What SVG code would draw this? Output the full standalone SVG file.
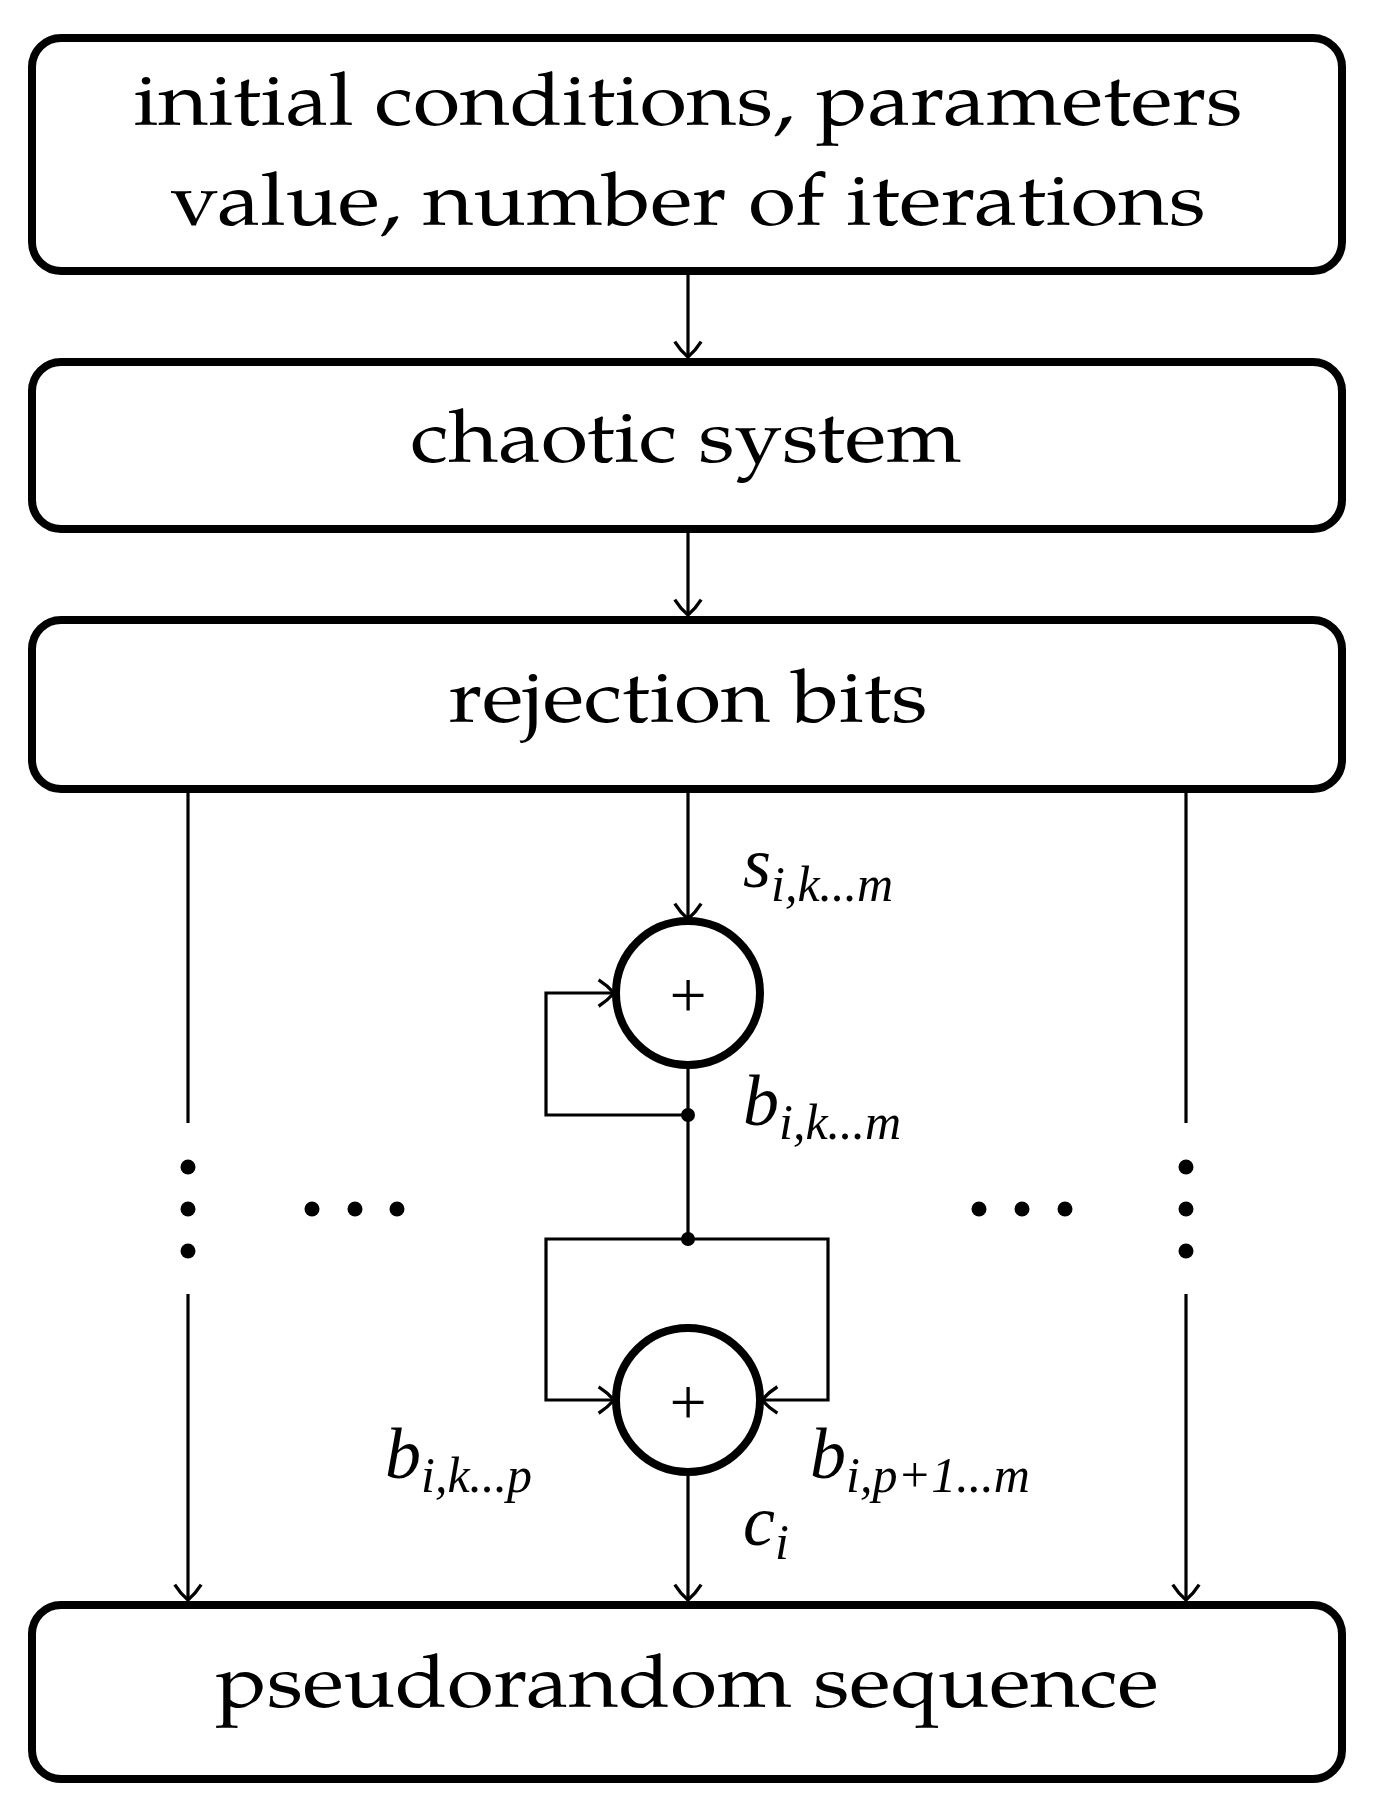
<svg xmlns="http://www.w3.org/2000/svg" width="1374" height="1807" viewBox="0 0 1374 1807">
<style>
.box{fill:#fff;stroke:#000;stroke-width:8}
.c{fill:#fff;stroke:#000;stroke-width:8}
.t{font-family:"TeX Gyre Pagella","Palatino Linotype","Liberation Serif",serif;font-size:74px;text-anchor:middle}
.m{font-family:"Liberation Serif",serif;font-style:italic;font-size:72px}
.s{font-size:50px}
.ln{fill:none;stroke:#000;stroke-width:3.2}
</style>
<defs>
<marker id="ah" markerWidth="12" markerHeight="12" refX="10" refY="6" orient="auto" markerUnits="userSpaceOnUse" viewBox="0 0 12 12" overflow="visible">
<path d="M-4,-6 Q4,-1 10,6 Q4,13 -4,18" transform="scale(1.1) translate(0,-0.5)" fill="none" stroke="#000" stroke-width="3"/>
</marker>
</defs>
<g id="n1"><rect class="box" x="32" y="38" width="1310" height="233" rx="29"/>
<text class="t" x="688" y="125" textLength="1109" lengthAdjust="spacingAndGlyphs">initial conditions, parameters</text>
<text class="t" x="688" y="225" textLength="1035" lengthAdjust="spacingAndGlyphs">value, number of iterations</text></g>
<g id="n2"><rect class="box" x="32" y="362" width="1310" height="167" rx="29"/>
<text class="t" x="686" y="462" textLength="551" lengthAdjust="spacingAndGlyphs">chaotic system</text></g>
<g id="n3"><rect class="box" x="32" y="620" width="1310" height="169" rx="29"/>
<text class="t" x="688" y="722" textLength="479" lengthAdjust="spacingAndGlyphs">rejection bits</text></g>
<g id="n5"><rect class="box" x="32" y="1605" width="1310" height="174" rx="29"/>
<text class="t" x="687" y="1707" textLength="943" lengthAdjust="spacingAndGlyphs">pseudorandom sequence</text></g>
<g id="x1"><circle class="c" cx="688" cy="993" r="72"/><text x="688" y="1017" font-family="Liberation Serif,serif" font-size="66" text-anchor="middle">+</text></g>
<g id="x2"><circle class="c" cx="688" cy="1400" r="72"/><text x="688" y="1424" font-family="Liberation Serif,serif" font-size="66" text-anchor="middle">+</text></g>
<g id="connectors">
<line class="ln" x1="688" y1="275" x2="688" y2="356" marker-end="url(#ah)"/>
<line class="ln" x1="688" y1="533" x2="688" y2="614" marker-end="url(#ah)"/>
<line class="ln" x1="688" y1="793" x2="688" y2="918" marker-end="url(#ah)"/>
<polyline class="ln" points="688,1115 546,1115 546,993 613,993" marker-end="url(#ah)"/>
<line class="ln" x1="688" y1="1069" x2="688" y2="1239"/>
<polyline class="ln" points="688,1239 546,1239 546,1400 613,1400" marker-end="url(#ah)"/>
<polyline class="ln" points="688,1239 828,1239 828,1400 763,1400" marker-end="url(#ah)"/>
<line class="ln" x1="688" y1="1476" x2="688" y2="1599" marker-end="url(#ah)"/>
<line class="ln" x1="188" y1="793" x2="188" y2="1123"/>
<line class="ln" x1="188" y1="1294" x2="188" y2="1599" marker-end="url(#ah)"/>
<line class="ln" x1="1186" y1="793" x2="1186" y2="1123"/>
<line class="ln" x1="1186" y1="1294" x2="1186" y2="1599" marker-end="url(#ah)"/>
<circle cx="688" cy="1115" r="7"/><circle cx="688" cy="1239" r="7"/>
</g>
<g id="dots">
<circle cx="188" cy="1167" r="7.5"/><circle cx="188" cy="1209" r="7.5"/><circle cx="188" cy="1251" r="7.5"/>
<circle cx="1186" cy="1167" r="7.5"/><circle cx="1186" cy="1209" r="7.5"/><circle cx="1186" cy="1251" r="7.5"/>
<circle cx="312" cy="1209" r="7.5"/><circle cx="355" cy="1209" r="7.5"/><circle cx="397" cy="1209" r="7.5"/>
<circle cx="979" cy="1209" r="7.5"/><circle cx="1022" cy="1209" r="7.5"/><circle cx="1065" cy="1209" r="7.5"/>
</g>
<g id="labels">
<text class="m" x="743" y="887">s<tspan class="s" dy="14">i,k...m</tspan></text>
<text class="m" x="743" y="1125">b<tspan class="s" dy="14">i,k...m</tspan></text>
<text class="m" x="385" y="1478">b<tspan class="s" dy="14">i,k...p</tspan></text>
<text class="m" x="810" y="1478">b<tspan class="s" dy="14">i,p+1...m</tspan></text>
<text class="m" x="743" y="1545">c<tspan class="s" dy="14">i</tspan></text>
</g>
</svg>
